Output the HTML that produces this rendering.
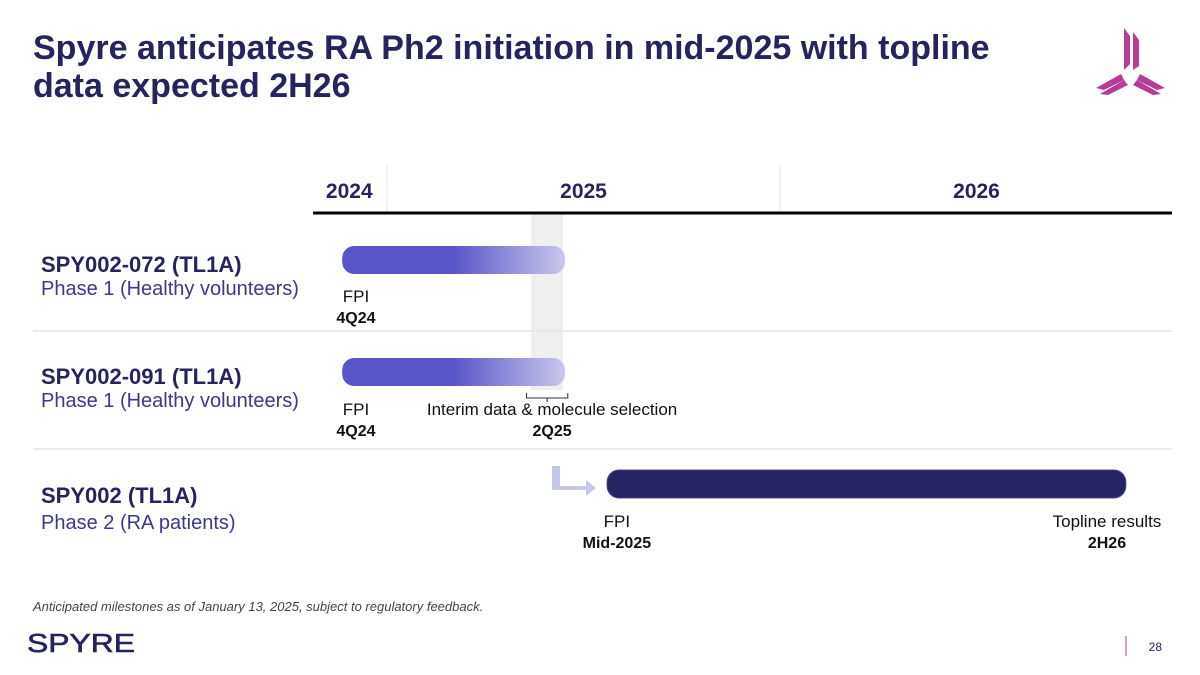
<!DOCTYPE html>
<html><head><meta charset="utf-8"><style>
body{margin:0;width:1200px;height:675px;background:#fff;overflow:hidden;font-family:"Liberation Sans",Arial,sans-serif}
svg{display:block}
</style></head><body>
<svg id="c" width="1200" height="675" viewBox="0 0 1200 675">
<defs>
<linearGradient id="g1" x1="0" x2="1" y1="0" y2="0">
<stop offset="0" stop-color="#5a55c8"/><stop offset="0.5" stop-color="#5a55c8"/><stop offset="1" stop-color="#cac8ec"/>
</linearGradient>
</defs>
<g fill="#26245f" font-weight="bold" font-size="34">
<text x="33" y="59">Spyre anticipates RA Ph2 initiation in mid-2025 with topline</text>
<text x="33" y="97">data expected 2H26</text>
</g>
<g fill="#b63c98">
<polygon points="1124,28 1130,36 1130,64 1124,70"/>
<polygon points="1133,32 1139,40 1139,66 1133,70"/>
<polygon points="1121,74 1096,88 1104,90 1124,80"/>
<polygon points="1124,80 1100,94 1108,95 1128,85"/>
<polygon points="1140,74 1165,88 1157,90 1137,80"/>
<polygon points="1137,80 1161,94 1153,95 1133,85"/>
</g>
<g id="axis"></g>
<g id="rows"></g>
<text x="33" y="611" font-size="13" font-style="italic" fill="#444">Anticipated milestones as of January 13, 2025, subject to regulatory feedback.</text>
<text x="27" y="652" font-size="26" fill="#26245f" stroke="#26245f" stroke-width="0.6" textLength="108" lengthAdjust="spacingAndGlyphs">SPYRE</text>
<line x1="1126" y1="636" x2="1126" y2="656" stroke="#b63c98" stroke-width="1"/>
<text x="1162" y="651" font-size="12" fill="#26245f" text-anchor="end">28</text>
</svg>
<script>
const years=["2024","2025","2026"];
const yearCenters=[2024.904,2025.5,2026.5];
const rowNames=["SPY002-072 (TL1A)","SPY002-091 (TL1A)","SPY002 (TL1A)"];
const rowSubs=["Phase 1 (Healthy volunteers)","Phase 1 (Healthy volunteers)","Phase 2 (RA patients)"];
const barStart=[2024.886,2024.886,2025.56];
const barEnd=[2025.453,2025.453,2026.88];
const milestoneNames=["FPI","FPI","Interim data & molecule selection","FPI","Topline results"];
const milestoneDates=["4Q24","4Q24","2Q25","Mid-2025","2H26"];
const milestoneTimes=[2024.921,2024.921,2025.42,2025.585,2026.832];
const milestoneRows=[0,1,1,2,2];
const NS="http://www.w3.org/2000/svg";
const x=v=>387+(v-2025)*393;
const rowY=i=>246+i*112;
function el(t,a,p,txt){const e=document.createElementNS(NS,t);for(const k in a)e.setAttribute(k,a[k]);if(txt!==undefined)e.textContent=txt;p.appendChild(e);return e;}
const ax=document.getElementById('axis'),rows=document.getElementById('rows');
let band=el('rect',{x:x(2025.366),y:215,width:x(2025.448)-x(2025.366),height:175,fill:'#efefef'},ax);


[2025,2026].forEach(v=>{const l=el('line',{x1:x(v),y1:165,x2:x(v),y2:212,stroke:'#e3e3e3'},ax);

});
years.forEach((y,i)=>{const t=el('text',{x:x(yearCenters[i]),y:198,'font-size':21,'font-weight':'bold',fill:'#26245f','text-anchor':'middle'},ax,y);

});
const base=el('line',{x1:313,y1:213,x2:1172,y2:213,stroke:'#000','stroke-width':3},ax);


[331,449].forEach(y=>{const l=el('line',{x1:33,y1:y,x2:1172,y2:y,stroke:'#e6e6e6','stroke-width':1.5},ax);

});
rowNames.forEach((n,i)=>{
 const y=rowY(i);
 const t=el('text',{x:41,y:i==2?y+33:y+26,'font-size':22,'font-weight':'bold',fill:'#26245f'},rows,n);
 
 
 const s=el('text',{x:41,y:i==2?y+59:y+49,'font-size':20,fill:'#3a3890'},rows,rowSubs[i]);
 
 
 const b=el('rect',{x:x(barStart[i]),y:y,width:x(barEnd[i])-x(barStart[i]),height:28,rx:12,fill:i==2?'#272463':'url(#g1)',stroke:i==2?'#4a4890':'none'},rows);
 
 
});
milestoneNames.forEach((n,k)=>{
 const r=milestoneRows[k];
 const y=rowY(r)+(r==0?-1:0);const cx=x(milestoneTimes[k]);
 const t1=el('text',{x:cx,y:y+57,'font-size':17,fill:'#111','text-anchor':'middle'},rows,n);
 
 
 const t2=el('text',{x:cx,y:y+78,'font-size':16,'font-weight':'bold',fill:'#111','text-anchor':'middle'},rows,milestoneDates[k]);
 
 
});
const br=el('path',{d:`M${x(2025.355)} 393 v5 h${x(2025.46)-x(2025.355)} v-5 M${(x(2025.355)+x(2025.46))/2} 398 v4`,fill:'none',stroke:'#333','stroke-width':1},rows);


const ar=el('path',{d:'M552 466 h8 v20 h26 v-6 l10 8 l-10 8 v-6 h-34 z',fill:'#c6c5ea'},rows);


</script>
</body></html>
